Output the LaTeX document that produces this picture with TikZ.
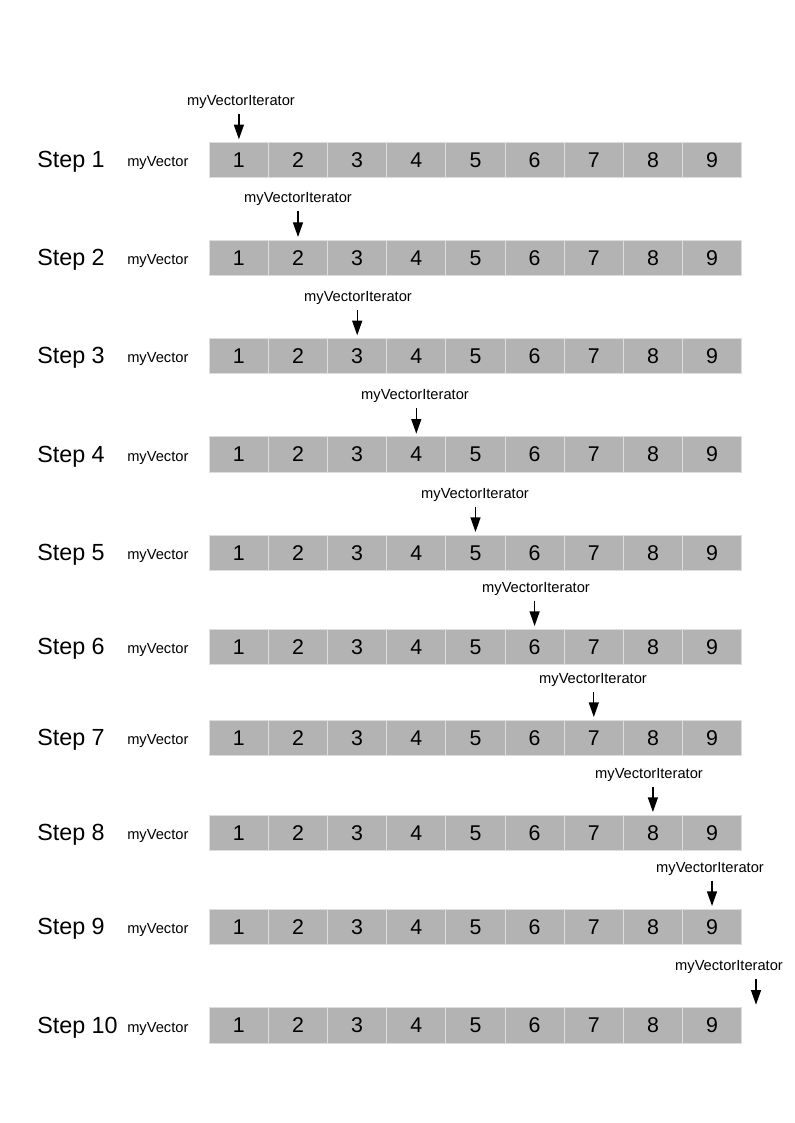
\documentclass[tikz,border=0pt]{standalone}
\usepackage{fontspec}
\setmainfont{Liberation Sans}
\usetikzlibrary{arrows.meta}
\definecolor{cellgray}{HTML}{B3B3B3}
\definecolor{cellline}{HTML}{DDDDDD}
\begin{document}
\begin{tikzpicture}[x=0.75pt,y=-0.75pt,
  cell/.style={draw=cellline, line width=0.75pt, fill=cellgray, minimum width=44.36pt, minimum height=26.6pt, inner sep=0pt, font=\fontsize{16}{16}\selectfont},
  steplab/.style={anchor=base west, inner sep=0pt, font=\fontsize{17.5}{17.5}\selectfont},
  veclab/.style={anchor=base west, inner sep=0pt, font=\fontsize{11}{11}\selectfont},
  itlab/.style={anchor=base, inner sep=0pt, font=\fontsize{11}{11}\selectfont},
  ptr/.style={-{Triangle[length=11pt,width=7.5pt]}, line width=1pt}]
\useasboundingbox (0,0) rectangle (794,1123);
\foreach \r/\t/\ax/\lx in {1/142.3/238.9/241, 2/240/298/298, 3/338.3/357.2/358, 4/436.7/416.3/415, 5/535/475.5/475, 6/629/534.6/536, 7/720/593.8/593, 8/815/652.9/649, 9/909/712/710, 10/1007.7/756/729}{
  \pgfmathsetmacro{\cy}{\t+17.8}
  \pgfmathsetmacro{\by}{\cy+7.5}
  \pgfmathsetmacro{\vy}{\cy+6.7}
  \node[steplab] (step\r) at (37,\by) {Step \r};
  \node[veclab] (vec\r) at (127,\vy) {myVector};
  \foreach \k in {1,...,9}{
    \pgfmathsetmacro{\cx}{209.3+59.15*(\k-0.5)}
    \node[cell] (c\r-\k) at (\cx,\cy) {\k};
  }
  \pgfmathsetmacro{\ly}{\t-37}
  \pgfmathsetmacro{\sy}{\t-28.5}
  \pgfmathsetmacro{\ey}{\t-3}
  \node[itlab] (it\r) at (\lx,\ly) {myVectorIterator};
  \coordinate (s\r) at (\ax,\sy);
  \coordinate (e\r) at (\ax,\ey);
  \draw[ptr] (s\r) -- (e\r);
}
\end{tikzpicture}
\end{document}
